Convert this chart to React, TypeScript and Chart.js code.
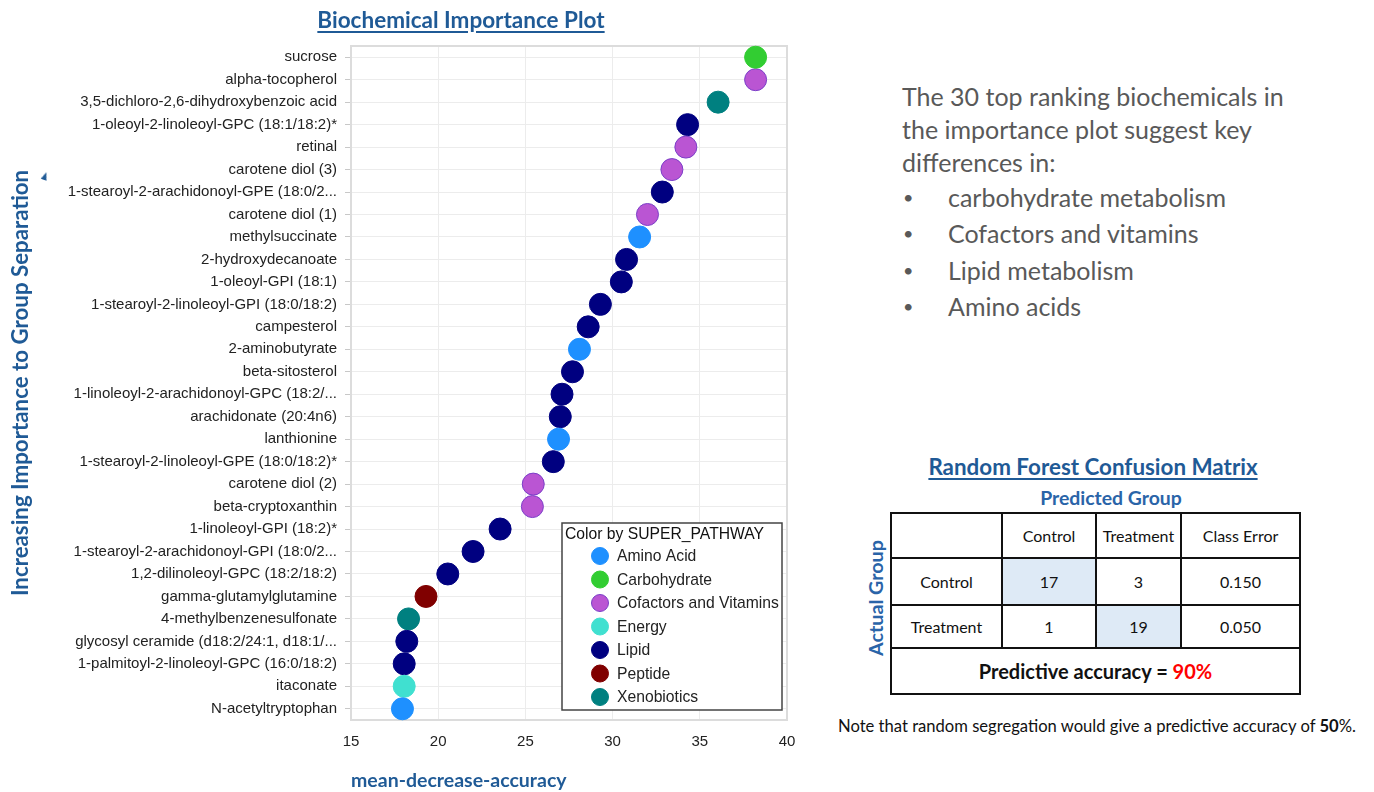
import React, { useEffect, useRef } from "react";
import { Chart, registerables } from "chart.js";

Chart.register(...registerables);

const categories = [
  "sucrose",
  "alpha-tocopherol",
  "3,5-dichloro-2,6-dihydroxybenzoic acid",
  "1-oleoyl-2-linoleoyl-GPC (18:1/18:2)*",
  "retinal",
  "carotene diol (3)",
  "1-stearoyl-2-arachidonoyl-GPE (18:0/2...",
  "carotene diol (1)",
  "methylsuccinate",
  "2-hydroxydecanoate",
  "1-oleoyl-GPI (18:1)",
  "1-stearoyl-2-linoleoyl-GPI (18:0/18:2)",
  "campesterol",
  "2-aminobutyrate",
  "beta-sitosterol",
  "1-linoleoyl-2-arachidonoyl-GPC (18:2/...",
  "arachidonate (20:4n6)",
  "lanthionine",
  "1-stearoyl-2-linoleoyl-GPE (18:0/18:2)*",
  "carotene diol (2)",
  "beta-cryptoxanthin",
  "1-linoleoyl-GPI (18:2)*",
  "1-stearoyl-2-arachidonoyl-GPI (18:0/2...",
  "1,2-dilinoleoyl-GPC (18:2/18:2)",
  "gamma-glutamylglutamine",
  "4-methylbenzenesulfonate",
  "glycosyl ceramide (d18:2/24:1, d18:1/...",
  "1-palmitoyl-2-linoleoyl-GPC (16:0/18:2)",
  "itaconate",
  "N-acetyltryptophan",
];

const meanDecreaseAccuracy = [
  38.2, 38.2, 36.05, 34.3, 34.2, 33.4, 32.85, 32.0, 31.55, 30.8,
  30.5, 29.3, 28.6, 28.1, 27.7, 27.1, 27.0, 26.9, 26.6, 25.45,
  25.4, 23.55, 22.0, 20.55, 19.3, 18.3, 18.2, 18.05, 18.05, 17.95,
];

const superPathway = [
  "Carbohydrate", "Cofactors and Vitamins", "Xenobiotics", "Lipid", "Cofactors and Vitamins",
  "Cofactors and Vitamins", "Lipid", "Cofactors and Vitamins", "Amino Acid", "Lipid",
  "Lipid", "Lipid", "Lipid", "Amino Acid", "Lipid",
  "Lipid", "Lipid", "Amino Acid", "Lipid", "Cofactors and Vitamins",
  "Cofactors and Vitamins", "Lipid", "Lipid", "Lipid", "Peptide",
  "Xenobiotics", "Lipid", "Lipid", "Energy", "Amino Acid",
];

const pathways = [
  "Amino Acid",
  "Carbohydrate",
  "Cofactors and Vitamins",
  "Energy",
  "Lipid",
  "Peptide",
  "Xenobiotics",
];

const pathwayColors = ["#1E90FF", "#32CD32", "#BA55D3", "#40E0D0", "#000080", "#800000", "#008080"];
const pathwayBorders = ["#1E90FF", "#32CD32", "#7B3FC8", "#40E0D0", "#000080", "#800000", "#008080"];

const xTicks = [15, 20, 25, 30, 35, 40];

const BLUE = "#1F5A96";

const legendPlugin = {
  id: "pathwayLegend",
  afterDraw(chart: any) {
    const { ctx, chartArea } = chart;
    const w = 220;
    const h = 187;
    const x0 = chartArea.right - 5 - w;
    const y0 = chartArea.bottom - 10 - h;
    ctx.save();
    ctx.fillStyle = "#ffffff";
    ctx.fillRect(x0, y0, w, h);
    ctx.strokeStyle = "#444444";
    ctx.lineWidth = 1.5;
    ctx.strokeRect(x0, y0, w, h);
    ctx.font = '15.7px "Liberation Sans", Arial, sans-serif';
    ctx.textBaseline = "middle";
    ctx.textAlign = "left";
    ctx.fillStyle = "#111111";
    ctx.fillText("Color by SUPER_PATHWAY", x0 + 3, y0 + 12);
    chart.data.datasets.forEach((ds: any, i: number) => {
      const cy = y0 + 33 + i * 23.5;
      ctx.beginPath();
      ctx.arc(x0 + 38, cy, 8.5, 0, Math.PI * 2);
      ctx.fillStyle = ds.backgroundColor;
      ctx.fill();
      ctx.lineWidth = 1;
      ctx.strokeStyle = ds.borderColor;
      ctx.stroke();
      ctx.fillStyle = "#222222";
      ctx.fillText(ds.label, x0 + 55, cy + 1);
    });
    ctx.restore();
  },
};

const framePlugin = {
  id: "frame",
  beforeDatasetsDraw(chart: any) {
    const { ctx, chartArea } = chart;
    ctx.save();
    ctx.strokeStyle = "#dcdcdc";
    ctx.lineWidth = 2;
    ctx.strokeRect(chartArea.left, chartArea.top, chartArea.right - chartArea.left, chartArea.bottom - chartArea.top);
    ctx.restore();
  },
};

function ImportanceChart() {
  const ref = useRef<HTMLCanvasElement | null>(null);
  useEffect(() => {
    if (!ref.current) return;
    const datasets = pathways.map((p, pi) => ({
      label: p,
      data: categories
        .map((c, i) => ({ x: meanDecreaseAccuracy[i], y: c, p: superPathway[i] }))
        .filter((d) => d.p === p)
        .map((d) => ({ x: d.x, y: d.y })),
      backgroundColor: pathwayColors[pi],
      borderColor: pathwayBorders[pi],
      borderWidth: 1,
      pointRadius: 11,
      pointHoverRadius: 11,
    }));
    const chart = new Chart(ref.current, {
      type: "scatter",
      data: { datasets },
      plugins: [framePlugin, legendPlugin],
      options: {
        animation: false,
        responsive: true,
        maintainAspectRatio: false,
        layout: { padding: { top: 46, right: 13, bottom: 0, left: 0 } },
        plugins: {
          legend: { display: false },
          tooltip: { enabled: false },
        },
        scales: {
          x: {
            type: "linear",
            min: 15,
            max: 40,
            afterBuildTicks: (scale: any) => {
              scale.ticks = xTicks.map((v) => ({ value: v }));
            },
            afterFit: (scale: any) => {
              scale.height = 72;
              scale.paddingLeft = 0;
              scale.paddingRight = 0;
            },
            grid: { color: "#ececec", drawTicks: false, lineWidth: 1 },
            border: { display: false },
            ticks: {
              padding: 13,
              color: "#222222",
              font: { family: '"Liberation Sans", Arial, sans-serif', size: 15 },
            },
            title: {
              display: true,
              text: "mean-decrease-accuracy",
              align: "start",
              color: BLUE,
              padding: { top: 0, bottom: 0 },
              font: { family: "Lato, 'Open Sans', sans-serif", size: 19.5, weight: "bold" },
            },
          },
          y: {
            type: "category",
            labels: categories,
            offset: true,
            afterFit: (scale: any) => {
              scale.width = 351;
            },
            grid: { color: "#ececec", tickColor: "#c8c8c8", tickLength: 6, lineWidth: 1 },
            border: { display: false },
            ticks: {
              padding: 8,
              autoSkip: false,
              color: "#222222",
              font: { family: '"Liberation Sans", Arial, sans-serif', size: 15 },
            },
            title: {
              display: true,
              text: "Increasing Importance to Group Separation",
              color: BLUE,
              padding: { top: 7, bottom: 0 },
              font: { family: "Lato, 'Open Sans', sans-serif", size: 22.3, weight: "bold" },
            },
          },
        },
      } as any,
    });
    return () => chart.destroy();
  }, []);
  return <canvas ref={ref} />;
}

const summaryIntro = "The 30 top ranking biochemicals in the importance plot suggest key differences in:";
const summaryBullets = ["carbohydrate metabolism", "Cofactors and vitamins", "Lipid metabolism", "Amino acids"];

const matrixColumns = ["Control", "Treatment", "Class Error"];
const matrixRows = ["Control", "Treatment"];
const matrixCounts = [
  [17, 3],
  [1, 19],
];
const classErrors = ["0.150", "0.050"];
const predictiveAccuracy = "90%";

export default function App() {
  useEffect(() => {
    document.body.style.margin = "0";
  }, []);
  const cal = "Lato, 'Open Sans', sans-serif";
  const cell: React.CSSProperties = {
    border: "2px solid #111",
    textAlign: "center",
    fontFamily: cal,
    fontSize: 16,
    color: "#111",
    padding: 0,
  };
  return (
    <div style={{ position: "relative", width: 1374, height: 792, background: "#fff", overflow: "hidden" }}>
      <div style={{ position: "absolute", left: 0, top: 0, width: 800, height: 792 }}>
        <ImportanceChart />
      </div>
      <div
        style={{
          position: "absolute",
          left: 261,
          top: 6,
          width: 400,
          textAlign: "center",
          fontFamily: cal,
          fontWeight: "bold",
          fontSize: 22.5,
          color: BLUE,
          textDecoration: "underline",
          textUnderlineOffset: 3,
        }}
      >
        Biochemical Importance Plot
      </div>
      <div
        style={{
          position: "absolute",
          left: 42,
          top: 172,
          width: 0,
          height: 0,
          borderLeft: "3px solid transparent",
          borderRight: "3px solid transparent",
          borderBottom: "8px solid " + BLUE,
          transform: "rotate(20deg)",
        }}
      />
      <div
        style={{
          position: "absolute",
          left: 902,
          top: 80,
          width: 392,
          fontFamily: cal,
          fontSize: 25,
          lineHeight: "33px",
          color: "#595959",
        }}
      >
        <div>{summaryIntro}</div>
        {summaryBullets.map((b) => (
          <div key={b} style={{ display: "flex", lineHeight: "36.3px" }}>
            <span style={{ width: 45, paddingLeft: 1, fontSize: 18 }}>•</span>
            <span>{b}</span>
          </div>
        ))}
      </div>
      <div
        style={{
          position: "absolute",
          left: 893,
          top: 453,
          width: 400,
          textAlign: "center",
          fontFamily: cal,
          fontWeight: "bold",
          fontSize: 22.4,
          color: BLUE,
          textDecoration: "underline",
          textUnderlineOffset: 3,
        }}
      >
        Random Forest Confusion Matrix
      </div>
      <div
        style={{
          position: "absolute",
          left: 1001,
          top: 486,
          width: 220,
          textAlign: "center",
          fontFamily: cal,
          fontWeight: "bold",
          fontSize: 19.4,
          color: "#2A64A8",
        }}
      >
        Predicted Group
      </div>
      <div
        style={{
          position: "absolute",
          left: 876 - 80,
          top: 598 - 12,
          width: 160,
          height: 24,
          lineHeight: "24px",
          textAlign: "center",
          transform: "rotate(-90deg)",
          fontFamily: cal,
          fontWeight: "bold",
          fontSize: 19.7,
          color: "#2A64A8",
        }}
      >
        Actual Group
      </div>
      <table
        style={{
          position: "absolute",
          left: 890,
          top: 512,
          width: 409,
          height: 182,
          borderCollapse: "collapse",
          tableLayout: "fixed",
        }}
      >
        <colgroup>
          <col style={{ width: 111 }} />
          <col style={{ width: 94 }} />
          <col style={{ width: 85 }} />
          <col style={{ width: 119 }} />
        </colgroup>
        <tbody>
          <tr style={{ height: 45 }}>
            <td style={cell}></td>
            {matrixColumns.map((c) => (
              <td key={c} style={cell}>
                {c}
              </td>
            ))}
          </tr>
          {matrixRows.map((r, ri) => (
            <tr key={r} style={{ height: ri === 0 ? 47 : 43 }}>
              <td style={cell}>{r}</td>
              {matrixCounts[ri].map((v, ci) => (
                <td key={ci} style={{ ...cell, background: ci === ri ? "#DEEAF6" : "#fff" }}>
                  {v}
                </td>
              ))}
              <td style={cell}>{classErrors[ri]}</td>
            </tr>
          ))}
          <tr style={{ height: 46 }}>
            <td colSpan={4} style={{ ...cell, fontWeight: "bold", fontSize: 20 }}>
              Predictive accuracy = <span style={{ color: "#FF0000" }}>{predictiveAccuracy}</span>
            </td>
          </tr>
        </tbody>
      </table>
      <div
        style={{
          position: "absolute",
          left: 838,
          top: 716,
          width: 540,
          fontFamily: cal,
          fontSize: 16.6,
          color: "#111",
          whiteSpace: "nowrap",
        }}
      >
        Note that random segregation would give a predictive accuracy of <b>50</b>%.
      </div>
    </div>
  );
}
